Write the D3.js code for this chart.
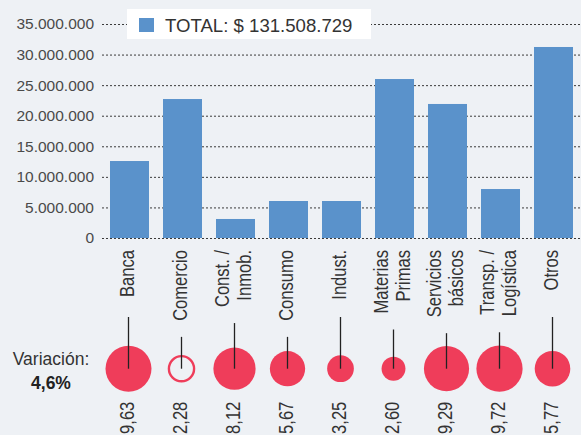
<!DOCTYPE html>
<html><head><meta charset="utf-8">
<script src="https://cdn.jsdelivr.net/npm/d3@7"></script>
<style>
html,body{margin:0;padding:0;background:#EEF1F5;}
svg{display:block;}
text{font-family:"Liberation Sans",Arial,sans-serif;}
</style></head>
<body>
<svg id="chart" width="581" height="435"></svg>
<script>
// ---- data ----
const categories = ["Banca", "Comercio", "Const. /\nInmob.", "Consumo", "Indust.", "Materias\nPrimas", "Servicios\nbásicos", "Transp. /\nLogística", "Otros"];
const totals = [12590000, 22730000, 3110000, 6050000, 6050000, 26000000, 21920000, 8010000, 31240000];
const variations = [9.63, -2.28, 8.12, 5.67, 3.25, 2.60, 9.29, 9.72, 5.77];
const yTicks = [0, 5000000, 10000000, 15000000, 20000000, 25000000, 30000000, 35000000];
const legendLabel = "TOTAL: $ 131.508.729";
const variationLabel = "Variación:";
const variationTotal = "4,6%";

// ---- layout ----
const W = 581, H = 435;
const svg = d3.select("#chart");
svg.append("rect").attr("width", W).attr("height", H).attr("fill", "#EEF1F5");

const locale = d3.formatLocale({decimal: ",", thousands: ".", grouping: [3], currency: ["$", ""]});
const fmtTick = locale.format(",d");
const fmtVar = locale.format(".2f");

const x = d3.scaleBand().domain(categories).range([103, 580]).paddingInner(0.264).paddingOuter(0.132);
const y = d3.scaleLinear().domain([0, 35000000]).range([238, 24]);
const r = d3.scaleSqrt().domain([0, 9.72]).range([0, 23.1]);

const BLUE = "#5A92CB", RED = "#EF3D5A";

// grid + axis
const axis = d3.axisLeft(y).tickValues(yTicks).tickFormat(fmtTick).tickSize(-(W - 102)).tickPadding(8);
const gAxis = svg.append("g").attr("transform", "translate(102,0)").call(axis);
gAxis.select(".domain").remove();
gAxis.selectAll(".tick line").attr("stroke", "#3a3a3a").attr("stroke-dasharray", "2,2").attr("stroke-width", 1);
gAxis.selectAll(".tick text").attr("fill", "#4a4a4a").style("font-size", "15.5px").style("font-family", "'Liberation Sans', Arial, sans-serif");

// bars
svg.append("g").selectAll("rect").data(categories).join("rect")
  .attr("x", d => x(d))
  .attr("width", x.bandwidth())
  .attr("y", (d, i) => y(totals[i]))
  .attr("height", (d, i) => y(0) - y(totals[i]))
  .attr("fill", BLUE);

// legend
const lg = svg.append("g");
lg.append("rect").attr("x", 127).attr("y", 9).attr("width", 244).attr("height", 30).attr("fill", "#fff");
lg.append("rect").attr("x", 139).attr("y", 18).attr("width", 15).attr("height", 14).attr("fill", BLUE);
lg.append("text").attr("x", 165).attr("y", 31.5).attr("fill", "#333").style("font-size", "18.6px").text(legendLabel);

// category labels (rotated)
const labelTop = 250;
const cx = d => x(d) + x.bandwidth() / 2;
const lab = svg.append("g").selectAll("g").data(categories).join("g")
  .attr("transform", d => `translate(${cx(d)},${labelTop}) rotate(-90) scale(0.85,1)`);
lab.each(function(d) {
  const lines = d.split("\n");
  const g = d3.select(this);
  const offs = lines.length === 1 ? [4] : [-6.5, 15.5];
  lines.forEach((t, k) => {
    g.append("text").attr("x", 0).attr("y", offs[k]).attr("text-anchor", "end")
      .attr("fill", "#333").style("font-size", "19.5px").text(t);
  });
});

// stems + circles (hollow circle = negative variation)
const cy = 368.7;
const stems = svg.append("g");
const circles = svg.append("g");
lab.each(function(d, i) {
  const bb = this.getBoundingClientRect();
  const top = Math.max(bb.bottom + 16, 317);
  const v = variations[i];
  if (v >= 0) {
    circles.append("circle").attr("cx", cx(d) - 1).attr("cy", cy).attr("r", r(v)).attr("fill", RED);
  } else {
    circles.append("circle").attr("cx", cx(d) - 1).attr("cy", cy).attr("r", r(-v) + 1.4)
      .attr("fill", "none").attr("stroke", RED).attr("stroke-width", 2.4);
  }
  stems.append("line").attr("x1", cx(d) - 1).attr("x2", cx(d) - 1).attr("y1", top).attr("y2", cy)
    .attr("stroke", "#222").attr("stroke-width", 1.3);
});
stems.raise();

// variation numbers (rotated, running to the bottom edge)
svg.append("g").selectAll("text").data(categories).join("text")
  .attr("transform", d => `translate(${cx(d)},401.7) rotate(-90) scale(0.85,1)`)
  .attr("x", 0).attr("y", 4).attr("text-anchor", "end")
  .attr("fill", "#333").style("font-size", "19.5px")
  .text((d, i) => fmtVar(Math.abs(variations[i])));

// variation caption
svg.append("text").attr("x", 51).attr("y", 365).attr("text-anchor", "middle")
  .attr("fill", "#333").style("font-size", "17.5px").text(variationLabel);
svg.append("text").attr("x", 51).attr("y", 389.3).attr("text-anchor", "middle")
  .attr("fill", "#222").style("font-size", "17.5px").style("font-weight", "bold").text(variationTotal);
</script>
</body></html>
